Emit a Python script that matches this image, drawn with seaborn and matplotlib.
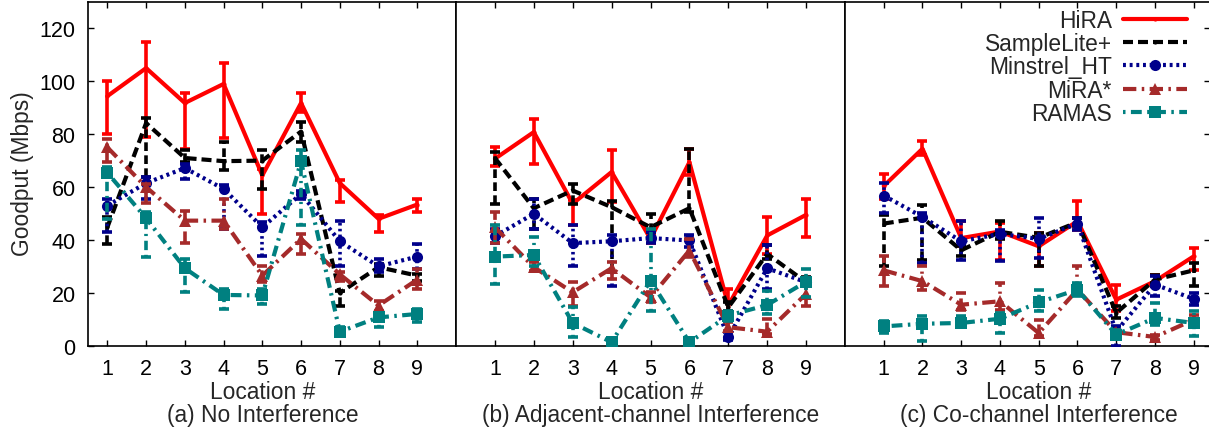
import numpy as np
import pandas as pd
import seaborn as sns
import matplotlib
matplotlib.use("Agg")
import matplotlib.pyplot as plt
import matplotlib.transforms as mtransforms

# x positions (locations)
locations = [1, 2, 3, 4, 5, 6, 7, 8, 9]
schemes = ["HiRA", "SampleLite+", "Minstrel_HT", "MiRA*", "RAMAS"]
panel_titles = ["(a) No Interference", "(b) Adjacent-channel Interference", "(c) Co-channel Interference"]

# (a) No interference: mean, low end and high end of the error bar
hira_a = [94.4, 105, 91.8, 99, 64.4, 91.8, 61.5, 48, 53.4]
hira_a_lo = [80, 79, 74.5, 78.5, 50, 88.4, 54.3, 43, 50.5]
hira_a_hi = [100, 115, 95.7, 107, 67, 95.7, 62.5, 49.5, 55.6]
samp_a = [44.8, 84.2, 71, 69.8, 70, 81, 20, 29.7, 26.5]
samp_a_lo = [38.5, 63.8, 69.4, 66.3, 59.3, 77, 15.2, 26.5, 24.6]
samp_a_hi = [48.6, 86, 74, 77, 74, 84.6, 20.8, 31, 27]
minst_a = [53, 61.5, 67.2, 59.3, 44.8, 57.4, 39.5, 30, 33.7]
minst_a_lo = [43, 55.5, 63, 44.2, 34, 55.5, 30.3, 27.8, 29]
minst_a_hi = [55.5, 63.8, 68.8, 60.6, 46.7, 58.7, 47.3, 32.8, 38.5]
mira_a = [75, 60, 47.3, 47.3, 26.5, 40.4, 27, 15.2, 25]
mira_a_lo = [69.4, 54, 39, 44, 24, 34.7, 24.6, 13.3, 21.5]
mira_a_hi = [78, 61, 51, 55.5, 30.3, 42.3, 27.8, 17, 29]
ramas_a = [65.4, 48.2, 29.3, 19.2, 19, 69.7, 5.3, 10.7, 12]
ramas_a_lo = [48, 33.5, 20.2, 13.9, 15.8, 45.5, 4.4, 7, 8.8]
ramas_a_hi = [67.5, 50.5, 32.8, 21.5, 21.5, 73.9, 7, 12, 13.9]

# (b) Adjacent-channel interference
hira_b = [70.7, 80.8, 53.7, 65.7, 40.4, 69.4, 15.2, 41.7, 49.5]
hira_b_lo = [68, 68.8, 45.5, 54.3, 39, 64.4, 10, 34.7, 41]
hira_b_hi = [75, 85.9, 55, 73.9, 41.7, 74.5, 21.5, 48.6, 55.5]
samp_b = [71, 52, 58.7, 52.4, 44.8, 52, 14.5, 34.7, 24]
samp_b_lo = [53.7, 44.2, 53.7, 27.8, 43, 50.5, 13.3, 32.8, 22.7]
samp_b_hi = [73.2, 55.5, 61.2, 54.9, 50, 74.5, 16.4, 37.9, 25.9]
minst_b = [41.4, 49.9, 38.8, 39.5, 40.7, 39.8, 3.2, 29.3, 24]
minst_b_lo = [39, 44, 30.3, 22.7, 39, 37.2, 2, 21.5, 22.7]
minst_b_hi = [44.2, 55.5, 45.5, 41.7, 43, 41.7, 5, 37.9, 25]
mira_b = [44.8, 29.7, 20.2, 29.3, 18.3, 36, 7, 5.3, 19.6]
mira_b_lo = [39, 28.4, 15.2, 25.3, 16.4, 33.5, 5.7, 4.4, 15.2]
mira_b_hi = [50.5, 31.6, 24, 31.6, 20.2, 40.4, 8.8, 10, 22.7]
ramas_b = [33.7, 34.3, 8.6, 1.3, 24.6, 1.3, 11.4, 15.4, 24.2]
ramas_b_lo = [23.4, 30.3, 3.2, 0, 13.3, 0, 9.5, 12, 18.3]
ramas_b_hi = [45.5, 41, 14.5, 1.9, 44.2, 2.5, 13.3, 20.8, 29]

# (c) Co-channel interference
hira_c = [60.4, 74.5, 40.7, 43.2, 37.6, 47.1, 17.4, 24.4, 33.8]
hira_c_lo = [55.3, 72.3, 37.6, 32.6, 30, 43.9, 13, 22.5, 28.8]
hira_c_hi = [64.8, 77.4, 47.1, 46.5, 42.7, 54.7, 23.1, 26.9, 36.9]
samp_c = [46.2, 48.4, 36.1, 43.1, 40.8, 46.7, 12.4, 25, 28.5]
samp_c_lo = [30, 32.6, 33.8, 40.2, 30, 45.2, 10.5, 23.7, 22.5]
samp_c_hi = [49.6, 53.4, 37.6, 47.1, 42.7, 48.4, 14.9, 26.9, 31.3]
minst_c = [56.8, 48.7, 39.5, 42.3, 40.4, 46.2, 5.4, 23.1, 17.7]
minst_c_lo = [50.3, 31.3, 32.6, 32, 33.2, 43.9, 0, 18.7, 15.5]
minst_c_hi = [61.6, 50.3, 47.1, 43.9, 48.4, 48.4, 7.3, 26.3, 20]
mira_c = [28.5, 24.4, 15.5, 16.8, 4.8, 21.2, 5.1, 3.3, 9.8]
mira_c_lo = [22.5, 21.2, 13.6, 13.6, 3.5, 19.9, 3.5, 2.3, 8]
mira_c_hi = [33.8, 30, 19.9, 23.7, 9.8, 30, 6, 4.2, 11.7]
ramas_c = [7.3, 8.3, 8.6, 10.2, 16.4, 21.2, 4.2, 10.5, 8.6]
ramas_c_lo = [4.8, 1.6, 7.3, 4.8, 13, 18.7, 2.9, 8, 3.5]
ramas_c_hi = [9.2, 11.1, 11.1, 12.4, 21.2, 23.7, 6, 16.1, 13]

panels = [
    [(hira_a, hira_a_lo, hira_a_hi), (samp_a, samp_a_lo, samp_a_hi), (minst_a, minst_a_lo, minst_a_hi),
     (mira_a, mira_a_lo, mira_a_hi), (ramas_a, ramas_a_lo, ramas_a_hi)],
    [(hira_b, hira_b_lo, hira_b_hi), (samp_b, samp_b_lo, samp_b_hi), (minst_b, minst_b_lo, minst_b_hi),
     (mira_b, mira_b_lo, mira_b_hi), (ramas_b, ramas_b_lo, ramas_b_hi)],
    [(hira_c, hira_c_lo, hira_c_hi), (samp_c, samp_c_lo, samp_c_hi), (minst_c, minst_c_lo, minst_c_hi),
     (mira_c, mira_c_lo, mira_c_hi), (ramas_c, ramas_c_lo, ramas_c_hi)],
]

# gnuplot-ish styles
colors = ["#ff0000", "#000000", "#00008b", "#a52a2a", "#008080"]
styles = ["-", (0, (2.4, 1.2)), (0, (0.7, 0.9)), (0, (3.2, 1.3, 0.6, 1.3)), (0, (0.6, 1.3, 2.6, 1.3))]
markers = [".", ".", "o", "^", "s"]
msizes = [6, 6, 8, 9, 8]

sns.set_style("ticks")
plt.rcParams["font.family"] = ["Liberation Sans", "DejaVu Sans"]

fig = plt.figure(figsize=(12.09, 4.31), dpi=100)
W, H = 1209.0, 431.0
bottom = 1 - 346.7 / H
height = (346.7 - 3) / H
# left edge px, right edge px, xlim
boxes = [(88, 456, (0.5, 10)), (456, 845, (0, 10)), (845, 1210, (0, 9.42))]

axes = []
for i, (x0, x1, xl) in enumerate(boxes):
    ax = fig.add_axes([x0 / W, bottom, (x1 - x0) / W, height])
    for j, name in enumerate(schemes):
        y, lo, hi = panels[i][j]
        y = np.array(y)
        eb = ax.errorbar(locations, y, yerr=[y - np.array(lo), np.array(hi) - y], fmt="none",
                         ecolor=colors[j], elinewidth=2.6, capsize=3.5, capthick=2.6, zorder=2 + j)
        eb.lines[2][0].set_linestyle(styles[j])
        df = pd.DataFrame({"Location": locations, "Goodput": y})
        sns.lineplot(data=df, x="Location", y="Goodput", ax=ax, color=colors[j], linewidth=3,
                     linestyle=styles[j], marker=markers[j], markersize=msizes[j], mew=0,
                     label=name, legend=False, zorder=2 + j)
    ax.set_xlim(*xl)
    ax.set_ylim(0, 130)
    ax.set_xticks(locations)
    ax.set_yticks([0, 20, 40, 60, 80, 100, 120])
    ax.set_xlabel("")
    ax.set_ylabel("")
    ax.tick_params(axis="both", direction="in", length=4, width=1, labelsize=15.5, colors="black",
                   top=True, bottom=True, left=(i == 0), right=(i == 2), labelleft=(i == 0))
    ax.tick_params(axis="x", pad=9)
    ax.tick_params(axis="y", pad=9)
    for s in ax.spines.values():
        s.set_linewidth(1.2)
        s.set_color("black")
        s.set_visible(True)
    trans = mtransforms.blended_transform_factory(ax.transData, fig.transFigure)
    ax.text(5, 1 - 393 / H, "Location #", transform=trans, ha="center", va="center", fontsize=16.4)
    ax.text(5, 1 - 416 / H, panel_titles[i], transform=trans, ha="center", va="center", fontsize=16.4)
    axes.append(ax)

fig.text(22 / W, 1 - 174 / H, "Goodput (Mbps)", rotation=90, ha="center", va="center", fontsize=16.4)

axes[2].legend(loc="upper right", bbox_to_anchor=(1187 / W, 1 - 10 / H), bbox_transform=fig.transFigure,
               frameon=False, markerfirst=False, handlelength=2.8, handletextpad=0.5,
               labelspacing=0.01, borderpad=0, borderaxespad=0, fontsize=16.4, numpoints=1)

fig.savefig("out.png", dpi=100)
